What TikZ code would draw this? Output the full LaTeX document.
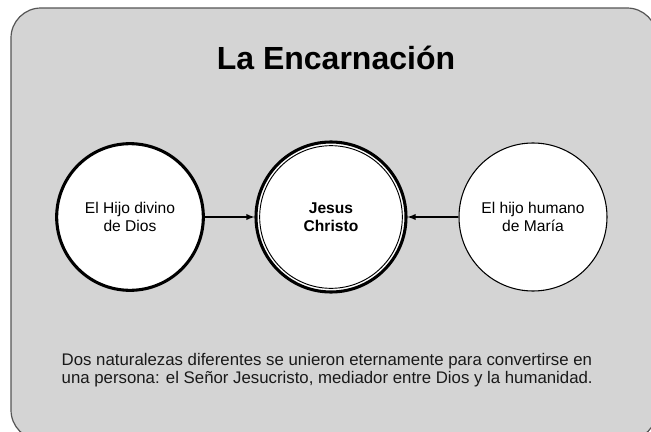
\documentclass[tikz,border=0pt]{standalone}
\usepackage{fontspec}
\setmainfont{Liberation Sans}
\usepackage{tikz}
\definecolor{panelgray}{RGB}{212,212,212}
\definecolor{edgegray}{RGB}{85,85,85}
\definecolor{inkgray}{RGB}{25,25,25}
\tikzstyle{panel}=[draw=edgegray,fill=panelgray,line width=0.9pt,
                   rounded corners=22.5pt]
\tikzstyle{heavyring}=[circle,draw=black,fill=white,line width=2.3pt,
                       inner sep=0pt,minimum size=110pt,align=center,
                       font=\fontsize{11.7}{13.5}\selectfont]
\tikzstyle{lightring}=[circle,draw=black,fill=white,line width=0.8pt,
                       inner sep=0pt,minimum size=111pt,align=center,
                       font=\fontsize{11.7}{13.5}\selectfont]
\tikzstyle{joinarrow}=[-latex,line width=1.1pt]

\begin{document}
\begin{tikzpicture}[x=0.75pt,y=-0.75pt]
    \useasboundingbox (0,0) rectangle (651,432);
    \fill[white] (0,0) rectangle (651,432);
    \draw[panel] (11,8) rectangle (657,440);
    \node (title) at (336,58) [font=\fontsize{24}{28}\selectfont\bfseries]
         {La Encarnación};
    \node (divine) at (130,217) [heavyring]{El Hijo divino\\de Dios};
    \node (christ) at (331,217) [heavyring,minimum size=112.5pt,
         font=\fontsize{11.7}{13.5}\selectfont\bfseries]{Jesus\\Christo};
    \draw[line width=0.7pt] (christ.center) circle (53.5pt);
    \node (human) at (533,217) [lightring]{El hijo humano\\de María};
    \draw[joinarrow] (divine) -- (christ);
    \draw[joinarrow] (human) -- (christ);
    \node (note) at (57,370) [anchor=west,align=left,text=inkgray,
         font=\fontsize{12.6}{13.6}\selectfont]
         {Dos naturalezas diferentes se unieron eternamente para convertirse en\\
          una persona: el Señor Jesucristo, mediador entre Dios y la humanidad.};
  \end{tikzpicture}
\end{document}
